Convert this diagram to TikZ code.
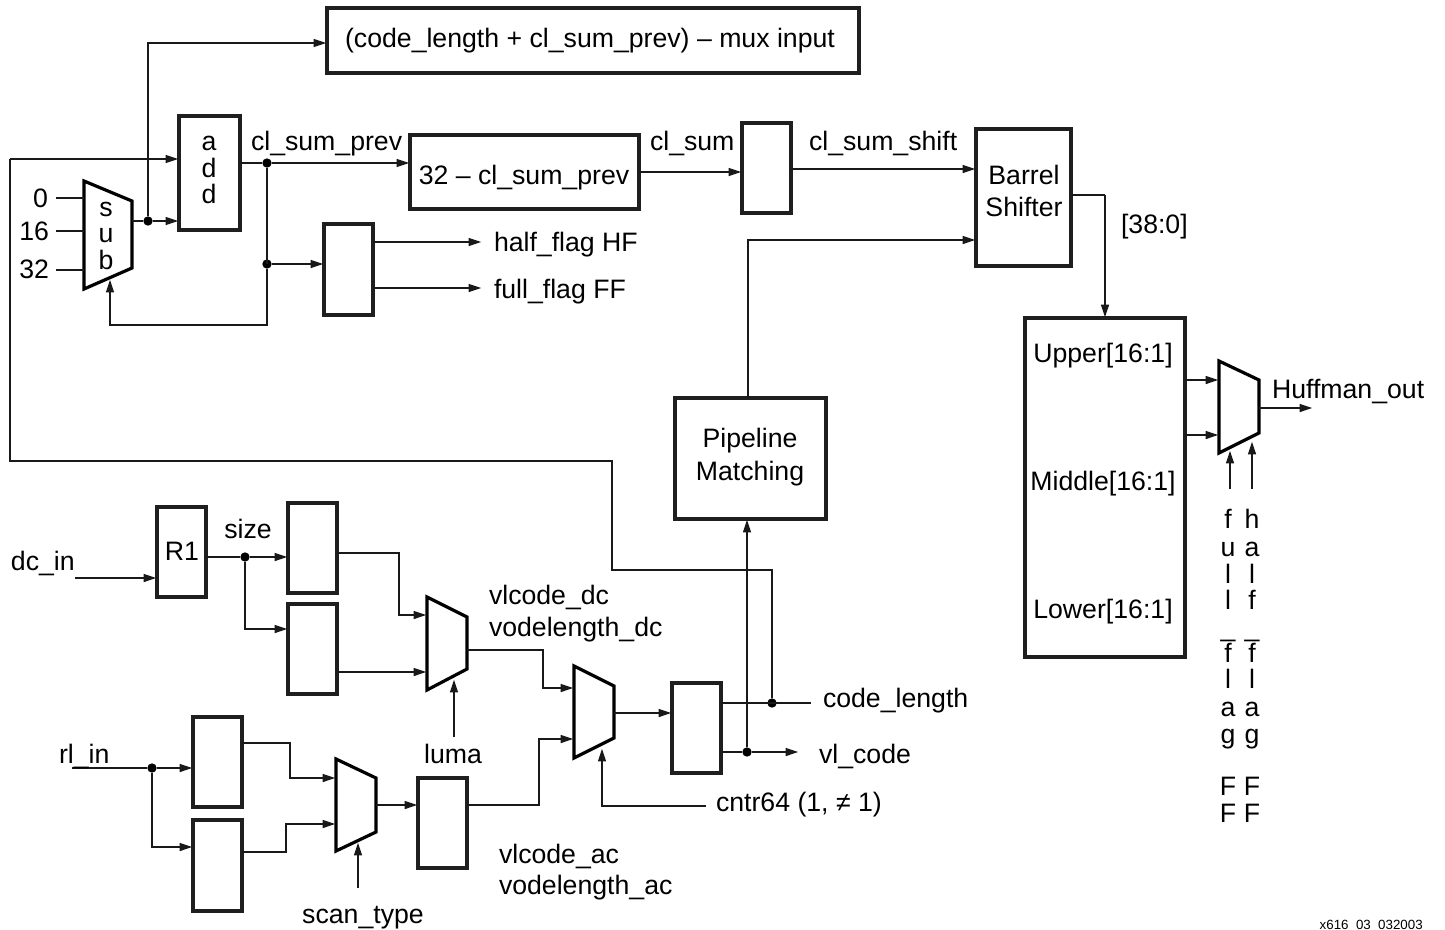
\documentclass[tikz,border=0pt]{standalone}
\usepackage{fontspec}
\setmainfont{Liberation Sans}
\usetikzlibrary{arrows.meta}
\tikzset{
  x=0.75pt,y=-0.75pt,
  wire/.style={line width=1pt,line join=miter,draw=black!90},
  arr/.style={wire,-{Stealth[length=9.4pt,width=6pt,inset=0pt]},shorten >=0.6pt},
  boxnode/.style={draw=black!88,line width=2.4pt,inner sep=0pt,outer sep=0pt},
  muxshape/.style={draw=black,line width=2.4pt,line join=miter},
  dot/.style={circle,fill=black,inner sep=0pt,minimum size=7pt,outer sep=0pt},
  lab/.style={inner sep=0pt,outer sep=0pt,font=\fontsize{20}{24}\selectfont},
}
% name, left, top, right, bottom
\newcommand{\rbox}[6][]{\node[boxnode,anchor=north west,minimum width=#5*0.75pt-#3*0.75pt,minimum height=#6*0.75pt-#4*0.75pt] (#2) at (#3,#4) {#1};}
% name, x-left, y1, x-right, y2, y3, y4
\newcommand{\muxb}[7]{\coordinate (#1a) at (#2,#3);\coordinate (#1b) at (#4,#5);\coordinate (#1c) at (#4,#6);\coordinate (#1d) at (#2,#7);
  \draw[muxshape] (#1a) -- (#1b) -- (#1c) -- (#1d) -- cycle;}
\newcommand{\lb}[5]{\node[lab,anchor=#2] (#1) at (#3,#4) {#5};}
\newcommand{\pt}[3]{\coordinate (#1) at (#2,#3);}
\newcommand{\jn}[3]{\node[dot] (#1) at (#2,#3) {};}
\begin{document}
\begin{tikzpicture}
\useasboundingbox (0,0) rectangle (1445,929);
% boxes
\rbox{top}{327}{8}{859}{73}
\rbox{add}{179}{116}{240}{230}
\rbox{sumb}{410}{135}{639}{209}
\rbox{clb}{742}{123}{791}{213}
\rbox{barrel}{976}{129}{1071}{266}
\rbox{flagb}{324}{224}{373}{315}
\rbox{pipe}{675}{398}{826}{519}
\rbox{upper}{1025}{318}{1185}{657}
\rbox{rone}{157}{507}{206}{597}
\rbox{sa}{288}{503}{337}{593}
\rbox{sb}{288}{604}{337}{694}
\rbox{ra}{193}{717}{242}{807}
\rbox{rb}{193}{820}{242}{911}
\rbox{ac}{418}{778}{467}{868}
\rbox{reg}{672}{683}{721}{773}
% muxes
\muxb{sub}{84}{181}{132}{201}{268}{289}
\muxb{mo}{1219}{361}{1259}{380}{433}{453}
\muxb{md}{427}{597}{467}{617}{669}{690}
\muxb{mm}{574}{666}{614}{686}{738}{758}
\muxb{ms}{336}{759}{376}{778}{832}{851}
% junctions
\jn{jsub}{148}{221}
\jn{jsum}{267}{163}
\jn{jflag}{267}{264}
\jn{jsize}{245}{557}
\jn{jrl}{152}{768}
\jn{jcl}{772}{703}
\jn{jvl}{747}{752}
% free ends and bends
\pt{p1}{148}{43} \pt{p2}{267}{325} \pt{p3}{110}{325} \pt{p4}{110}{279}
\pt{f1}{10}{159} \pt{f2}{10}{461} \pt{f3}{612}{461} \pt{f4}{612}{570} \pt{f5}{772}{570}
\pt{i0}{56}{198} \pt{i1}{56}{231} \pt{i2}{56}{270}
\pt{hf}{482}{242} \pt{ff}{482}{288}
\pt{bs}{1105}{195}
\pt{hm}{1313}{408}
\pt{cf}{1230}{489} \pt{chf}{1252}{489} \pt{cft}{1230}{450} \pt{cht}{1252}{441}
\pt{dc}{75}{578} \pt{rl}{72}{768}
\pt{lu}{454}{737} \pt{lut}{454}{679}
\pt{cnt}{706}{806} \pt{cn2}{602}{806} \pt{cn3}{602}{748}
\pt{st}{358}{888} \pt{stt}{358}{842}
\pt{clout}{811}{703} \pt{vlout}{799}{752}
\pt{pp}{748}{240}
% connectors
\draw[wire] (subb|-jsub) -- (jsub);
\draw[arr] (jsub) -- (add.west|-jsub);
\draw[arr] (jsub) -- (p1) -- (top.west|-p1);
\draw[wire] (jcl) -- (f5) -- (f4) -- (f3) -- (f2) -- (f1);
\draw[arr] (f1) -- (add.west|-f1);
\draw[wire] (add.east|-jsum) -- (jsum);
\draw[arr] (jsum) -- (sumb.west|-jsum);
\draw[arr] (jsum) |- (jflag) -- (flagb.west|-jflag);
\draw[arr] (jflag) -- (p2) -- (p3) -- (p4);
\draw[wire] (i0) -- (suba|-i0);
\draw[wire] (i1) -- (suba|-i1);
\draw[wire] (i2) -- (suba|-i2);
\draw[arr] (flagb.east|-hf) -- (hf);
\draw[arr] (flagb.east|-ff) -- (ff);
\draw[arr] (sumb.east|-0,172) -- (clb.west|-0,172);
\draw[arr] (clb.east|-0,169) -- (barrel.west|-0,169);
\draw[wire] (barrel.east|-bs) -- (bs);
\draw[arr] (bs) -- (bs|-upper.north);
\draw[arr] (pipe.north-|pp) -- (pp) -- (barrel.west|-pp);
\draw[arr] (jvl) -- (jvl|-pipe.south);
\draw[arr] (upper.east|-mob) -- (moa|-mob);
\draw[arr] (upper.east|-0,435) -- (moa|-0,435);
\draw[arr] (mob|-hm) -- (hm);
\draw[arr] (cf) -- (cft);
\draw[arr] (chf) -- (cht);
\draw[arr] (dc) -- (rone.west|-dc);
\draw[wire] (rone.east|-jsize) -- (jsize);
\draw[arr] (jsize) -- (sa.west|-jsize);
\draw[arr] (jsize) |- (sb.west|-0,629);
\draw[arr] (sa.east|-0,553) -- (399,553) -- (399,615) -- (mda|-0,615);
\draw[arr] (sb.east|-0,672) -- (mda|-0,672);
\draw[arr] (lu) -- (lut);
\draw[arr] (mdb|-0,650) -- (543,650) -- (543,688) -- (mma|-0,688);
\draw[arr] (ac.east|-0,805) -- (539,805) -- (539,739) -- (mma|-0,739);
\draw[arr] (mmb|-0,713) -- (reg.west|-0,713);
\draw[arr] (cnt) -- (cn2) -- (cn3);
\draw[wire] (rl) -- (jrl);
\draw[arr] (jrl) -- (ra.west|-jrl);
\draw[arr] (jrl) |- (rb.west|-0,847);
\draw[arr] (ra.east|-0,743) -- (290,743) -- (290,778) -- (msa|-0,778);
\draw[arr] (rb.east|-0,852) -- (286,852) -- (286,824) -- (msa|-0,824);
\draw[arr] (msb|-0,805) -- (ac.west|-0,805);
\draw[arr] (st) -- (stt);
\draw[wire] (reg.east|-jcl) -- (clout);
\draw[wire] (reg.east|-jvl) -- (jvl);
\draw[arr] (jvl) -- (vlout);
% labels
\lb{lt}{base}{590}{47}{(code\_length + cl\_sum\_prev) – mux input}
\lb{l0}{base east}{48}{207}{0}
\lb{l16}{base east}{49}{240}{16}
\lb{l32}{base east}{49}{278}{32}
\lb{ls1}{base}{106}{216}{s}
\lb{ls2}{base}{106}{242}{u}
\lb{ls3}{base}{106}{269}{b}
\lb{la1}{base}{209}{150}{a}
\lb{la2}{base}{209}{177}{d}
\lb{la3}{base}{209}{203}{d}
\lb{lcsp}{base west}{251}{150}{cl\_sum\_prev}
\lb{lcs}{base west}{650}{150}{cl\_sum}
\lb{lcss}{base west}{809}{150}{cl\_sum\_shift}
\lb{l32c}{base}{524}{184}{32 – cl\_sum\_prev}
\lb{lhf}{base west}{494}{251}{half\_flag HF}
\lb{lff}{base west}{494}{298}{full\_flag FF}
\lb{lb1}{base}{1024}{184}{Barrel}
\lb{lb2}{base}{1024}{216}{Shifter}
\lb{l38}{base west}{1121}{233}{[38:0]}
\lb{lup}{base}{1103}{362}{Upper[16:1]}
\lb{lmi}{base}{1103}{490}{Middle[16:1]}
\lb{llo}{base}{1103}{618}{Lower[16:1]}
\lb{lhu}{base west}{1272}{398}{Huffman\_out}
\lb{lp1}{base}{750}{447}{Pipeline}
\lb{lp2}{base}{750}{480}{Matching}
\lb{lsz}{base}{248}{538}{size}
\lb{ldc}{base west}{11}{570}{dc\_in}
\lb{lr1}{base}{182}{560}{R1}
\lb{lvd}{base west}{489}{604}{vlcode\_dc}
\lb{lvl}{base west}{489}{636}{vodelength\_dc}
\lb{lcl}{base west}{823}{707}{code\_length}
\lb{lvc}{base west}{819}{763}{vl\_code}
\lb{lcn}{base west}{716}{811}{cntr64 (1, ≠ 1)}
\lb{llu}{base}{453}{763}{luma}
\lb{lrl}{base west}{59}{763}{rl\_in}
\lb{lva}{base west}{499}{863}{vlcode\_ac}
\lb{lvb}{base west}{499}{894}{vodelength\_ac}
\lb{lst}{base}{363}{923}{scan\_type}
% vertical labels
\lb{fa}{base}{1228}{528}{f} \lb{fb}{base}{1228}{556}{u} \lb{fc}{base}{1228}{583}{l} \lb{fd}{base}{1228}{609}{l}
\lb{fe}{base}{1228}{636}{\_} \lb{ff1}{base}{1228}{662}{f} \lb{fg}{base}{1228}{688}{l} \lb{fh}{base}{1228}{716}{a}
\lb{fi}{base}{1228}{743}{g} \lb{fj}{base}{1228}{795}{F} \lb{fk}{base}{1228}{822}{F}
\lb{ha}{base}{1252}{528}{h} \lb{hb}{base}{1252}{556}{a} \lb{hc}{base}{1252}{583}{l} \lb{hd}{base}{1252}{609}{f}
\lb{he}{base}{1252}{636}{\_} \lb{hf1}{base}{1252}{662}{f} \lb{hg}{base}{1252}{688}{l} \lb{hh}{base}{1252}{716}{a}
\lb{hi}{base}{1252}{743}{g} \lb{hj}{base}{1252}{795}{F} \lb{hk}{base}{1252}{822}{F}
\node[inner sep=0pt,anchor=base east,font=\fontsize{10}{12}\selectfont] (ref) at (1423,929) {x616\_03\_032003};
\end{tikzpicture}
\end{document}
